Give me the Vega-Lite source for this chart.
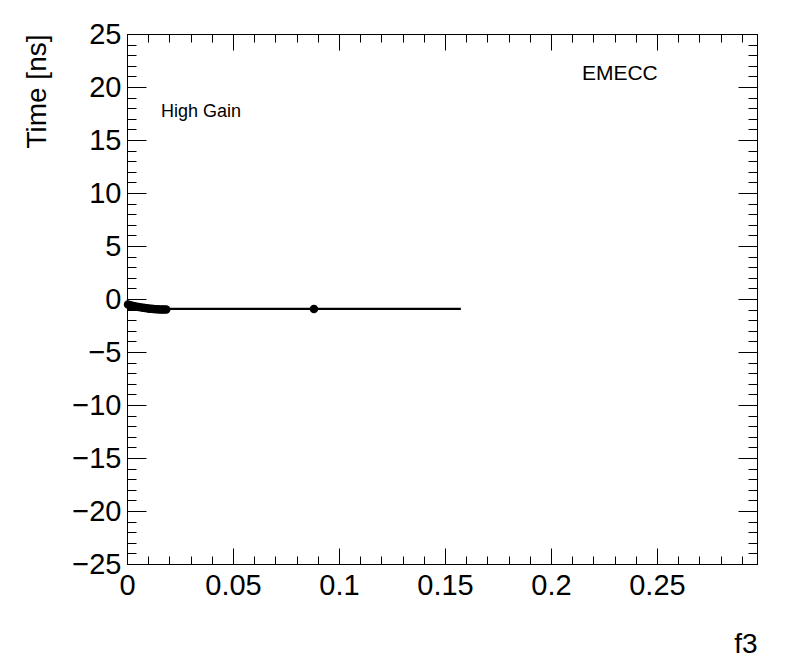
{
  "$schema": "https://vega.github.io/schema/vega-lite/v6.json",
  "width": 630,
  "height": 530,
  "autosize": {"type": "none"},
  "padding": {"left": 127, "top": 34, "right": 39, "bottom": 108},
  "background": "white",
  "config": {
    "view": {"stroke": null},
    "font": "Liberation Sans",
    "axis": {
      "grid": false,
      "domainColor": "black",
      "tickColor": "black",
      "labelColor": "black",
      "titleColor": "black",
      "labelFont": "Liberation Sans",
      "titleFont": "Liberation Sans",
      "labelFontSize": 29,
      "titleFontSize": 28,
      "titleFontWeight": "normal",
      "labelFlush": false,
      "labelOverlap": false,
      "domainWidth": 1,
      "tickWidth": 1
    }
  },
  "resolve": {"axis": {"x": "independent", "y": "independent"}},
  "layer": [
    {
      "data": {
        "values": [
          {"f3": 0.0005, "time": -0.52},
          {"f3": 0.0015, "time": -0.58},
          {"f3": 0.0025, "time": -0.63},
          {"f3": 0.0035, "time": -0.68},
          {"f3": 0.0045, "time": -0.72},
          {"f3": 0.0055, "time": -0.76},
          {"f3": 0.0065, "time": -0.79},
          {"f3": 0.0075, "time": -0.83},
          {"f3": 0.0085, "time": -0.86},
          {"f3": 0.0095, "time": -0.88},
          {"f3": 0.0105, "time": -0.91},
          {"f3": 0.0115, "time": -0.93},
          {"f3": 0.0125, "time": -0.95},
          {"f3": 0.0135, "time": -0.96},
          {"f3": 0.0145, "time": -0.97},
          {"f3": 0.0155, "time": -0.98},
          {"f3": 0.0165, "time": -0.98},
          {"f3": 0.0175, "time": -0.99},
          {"f3": 0.0185, "time": -0.99},
          {"f3": 0.0882, "time": -0.95}
        ]
      },
      "mark": {"type": "circle", "size": 72, "color": "black", "opacity": 1},
      "encoding": {
        "x": {
          "field": "f3",
          "type": "quantitative",
          "scale": {"domain": [0, 0.2972], "nice": false, "zero": false},
          "axis": {
            "orient": "bottom",
            "values": [0, 0.05, 0.1, 0.15, 0.2, 0.25],
            "format": "~g",
            "tickSize": -16,
            "labelPadding": 23,
            "title": "f3",
            "titleX": 630,
            "titleY": 88,
            "titleAlign": "right",
            "titleBaseline": "alphabetic"
          }
        },
        "y": {
          "field": "time",
          "type": "quantitative",
          "scale": {"domain": [-25, 25], "nice": false, "zero": false},
          "axis": {
            "orient": "left",
            "values": [-25, -20, -15, -10, -5, 0, 5, 10, 15, 20, 25],
            "format": "~g",
            "tickSize": -19,
            "labelPadding": 25,
            "title": "Time [ns]",
            "titleAngle": 270,
            "titleX": -82,
            "titleY": 0,
            "titleAlign": "right",
            "titleBaseline": "alphabetic"
          }
        }
      }
    },
    {
      "data": {
        "values": [
          {"f3": 0, "time": -0.94},
          {"f3": 0.1575, "time": -0.94}
        ]
      },
      "mark": {"type": "line", "color": "black", "strokeWidth": 2.2},
      "encoding": {
        "x": {
          "field": "f3",
          "type": "quantitative",
          "axis": {
            "orient": "bottom",
            "values": [0, 0.01, 0.02, 0.03, 0.04, 0.05, 0.06, 0.07, 0.08, 0.09, 0.1, 0.11, 0.12, 0.13, 0.14, 0.15, 0.16, 0.17, 0.18, 0.19, 0.2, 0.21, 0.22, 0.23, 0.24, 0.25, 0.26, 0.27, 0.28, 0.29],
            "labels": false,
            "tickSize": -8,
            "title": null
          }
        },
        "y": {
          "field": "time",
          "type": "quantitative",
          "axis": {
            "orient": "left",
            "values": [-25, -24, -23, -22, -21, -20, -19, -18, -17, -16, -15, -14, -13, -12, -11, -10, -9, -8, -7, -6, -5, -4, -3, -2, -1, 0, 1, 2, 3, 4, 5, 6, 7, 8, 9, 10, 11, 12, 13, 14, 15, 16, 17, 18, 19, 20, 21, 22, 23, 24, 25],
            "labels": false,
            "tickSize": -9,
            "title": null
          }
        }
      }
    },
    {
      "data": {"values": [{}]},
      "mark": {"type": "text", "text": "EMECC", "fontSize": 21, "font": "Liberation Sans", "align": "left", "baseline": "alphabetic", "color": "black"},
      "encoding": {
        "x": {
          "datum": 0.2146,
          "type": "quantitative",
          "axis": {
            "orient": "top",
            "values": [0, 0.05, 0.1, 0.15, 0.2, 0.25],
            "labels": false,
            "tickSize": -16,
            "title": null
          }
        },
        "y": {
          "datum": 20.66,
          "type": "quantitative",
          "axis": {
            "orient": "right",
            "values": [-25, -20, -15, -10, -5, 0, 5, 10, 15, 20, 25],
            "labels": false,
            "tickSize": -19,
            "title": null
          }
        }
      }
    },
    {
      "data": {"values": [{}]},
      "mark": {"type": "text", "text": "High Gain", "fontSize": 18, "font": "Liberation Sans", "align": "left", "baseline": "alphabetic", "color": "black"},
      "encoding": {
        "x": {
          "datum": 0.016,
          "type": "quantitative",
          "axis": {
            "orient": "top",
            "values": [0, 0.01, 0.02, 0.03, 0.04, 0.05, 0.06, 0.07, 0.08, 0.09, 0.1, 0.11, 0.12, 0.13, 0.14, 0.15, 0.16, 0.17, 0.18, 0.19, 0.2, 0.21, 0.22, 0.23, 0.24, 0.25, 0.26, 0.27, 0.28, 0.29],
            "labels": false,
            "tickSize": -8,
            "title": null
          }
        },
        "y": {
          "datum": 17.17,
          "type": "quantitative",
          "axis": {
            "orient": "right",
            "values": [-25, -24, -23, -22, -21, -20, -19, -18, -17, -16, -15, -14, -13, -12, -11, -10, -9, -8, -7, -6, -5, -4, -3, -2, -1, 0, 1, 2, 3, 4, 5, 6, 7, 8, 9, 10, 11, 12, 13, 14, 15, 16, 17, 18, 19, 20, 21, 22, 23, 24, 25],
            "labels": false,
            "tickSize": -9,
            "title": null
          }
        }
      }
    }
  ]
}
